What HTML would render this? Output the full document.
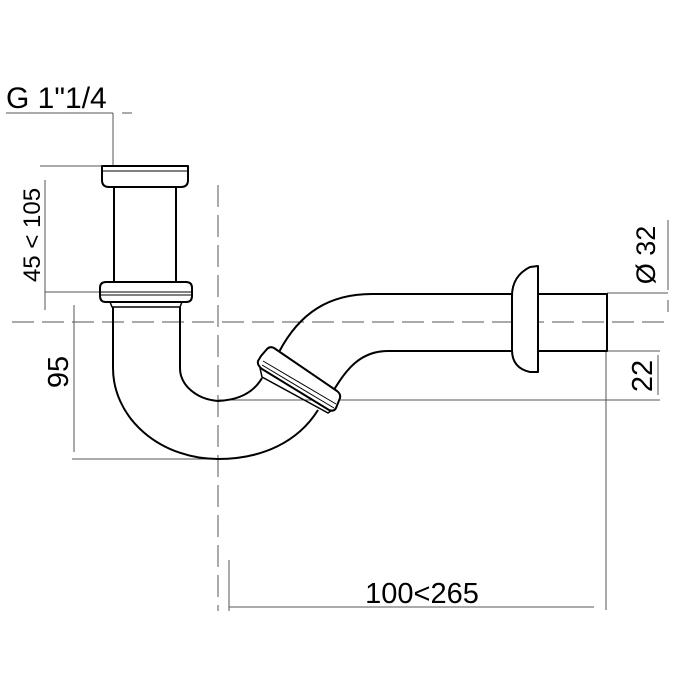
<!DOCTYPE html>
<html><head><style>html,body{margin:0;padding:0;background:#fff}svg{display:block}</style></head>
<body>
<svg width="680" height="680" viewBox="0 0 680 680" xmlns="http://www.w3.org/2000/svg" font-family="Liberation Sans, sans-serif">
<g stroke="#555" stroke-width="1" fill="none">
  <line x1="6" y1="113" x2="113" y2="113"/>
  <line x1="113" y1="113" x2="113" y2="166"/>
  <line x1="122" y1="113" x2="132" y2="113"/>
  <line x1="40" y1="166" x2="102" y2="166"/>
  <line x1="45" y1="180" x2="45" y2="310"/>
  <line x1="45" y1="292" x2="100" y2="292"/>
  <line x1="74" y1="305" x2="74" y2="452"/>
  <line x1="72" y1="459" x2="218" y2="459"/>
  <line x1="218" y1="400" x2="660" y2="400"/>
  <line x1="607" y1="293" x2="668" y2="293"/>
  <line x1="607" y1="351" x2="660" y2="351"/>
  <line x1="668" y1="220" x2="668" y2="290"/>
  <line x1="668" y1="300" x2="668" y2="312"/>
  <line x1="658" y1="355" x2="658" y2="395"/>
  <line x1="606" y1="351" x2="606" y2="610"/>
  <line x1="229" y1="607" x2="594" y2="607"/>
  <line x1="229" y1="560" x2="229" y2="611"/>
  <line x1="12" y1="322" x2="668" y2="322" stroke-dasharray="22,8"/>
  <line x1="218" y1="185" x2="218" y2="611" stroke-dasharray="22,8"/>
</g>
<g stroke="#000" stroke-width="2" fill="none" stroke-linejoin="round">
  <path d="M102,166 H188 V180 Q188,187 181,187 H109 Q102,187 102,180 Z" fill="#fff"/>
  <line x1="103" y1="171" x2="187" y2="171" stroke-width="1"/>
  <path d="M114,187 V282 M176,187 V282"/>
  <path d="M106,282 H186 Q192,282 192,288 V296 Q192,302 186,302 H106 Q100,302 100,296 V288 Q100,282 106,282 Z" fill="#fff"/>
  <line x1="101" y1="292" x2="191" y2="292" stroke-width="1"/>
  <line x1="101" y1="295" x2="191" y2="295" stroke-width="1"/>
  <path d="M110,302 H182 L180,307 H112 Z" stroke-width="1.5"/>
  <!-- U bend -->
  <path d="M113,307 V368 A105,91 0 0 0 218,459 C262,459 298,442 318,410"/>
  <path d="M180,307 V368 A42,33 0 0 0 218,401 C240,400 254,392 262,378"/>
  <!-- upper pipe -->
  <path d="M279,352 C300,312 330,294 372,294 H512"/>
  <path d="M331,395 C345,370 360,351 388,351 H512"/>
  <!-- slanted nut -->
  <path d="M261,356 L267,349 Q270,346 274,348 L337,391 Q341,394 340,398 L336,408 Q334,412 329,410 L262,369 Q257,365 258,361 Z" fill="#fff"/>
  <line x1="263" y1="361" x2="336" y2="404" stroke-width="1"/>
  <line x1="262" y1="365" x2="334" y2="408" stroke-width="1"/>
  <path d="M260,368 L262,377 L328,413 L332,410" stroke-width="1.5"/>
  <!-- escutcheon -->
  <path d="M538,266 V372 H530 Q512,368 512,350 V296 Q512,276 530,267 Z" fill="#fff"/>
  <path d="M538,294 H607 V351 H538"/>
</g>
<g fill="#000">
  <text x="6" y="108" font-size="30">G 1"1/4</text>
  <text transform="translate(40,235) rotate(-90)" text-anchor="middle" font-size="24">45 &lt; 105</text>
  <text transform="translate(68,372) rotate(-90)" text-anchor="middle" font-size="29">95</text>
  <text transform="translate(655,255) rotate(-90)" text-anchor="middle" font-size="27">Ø 32</text>
  <text transform="translate(652,376) rotate(-90)" text-anchor="middle" font-size="29">22</text>
  <text x="422" y="603" text-anchor="middle" font-size="29">100&lt;265</text>
</g>
</svg>
</body></html>
